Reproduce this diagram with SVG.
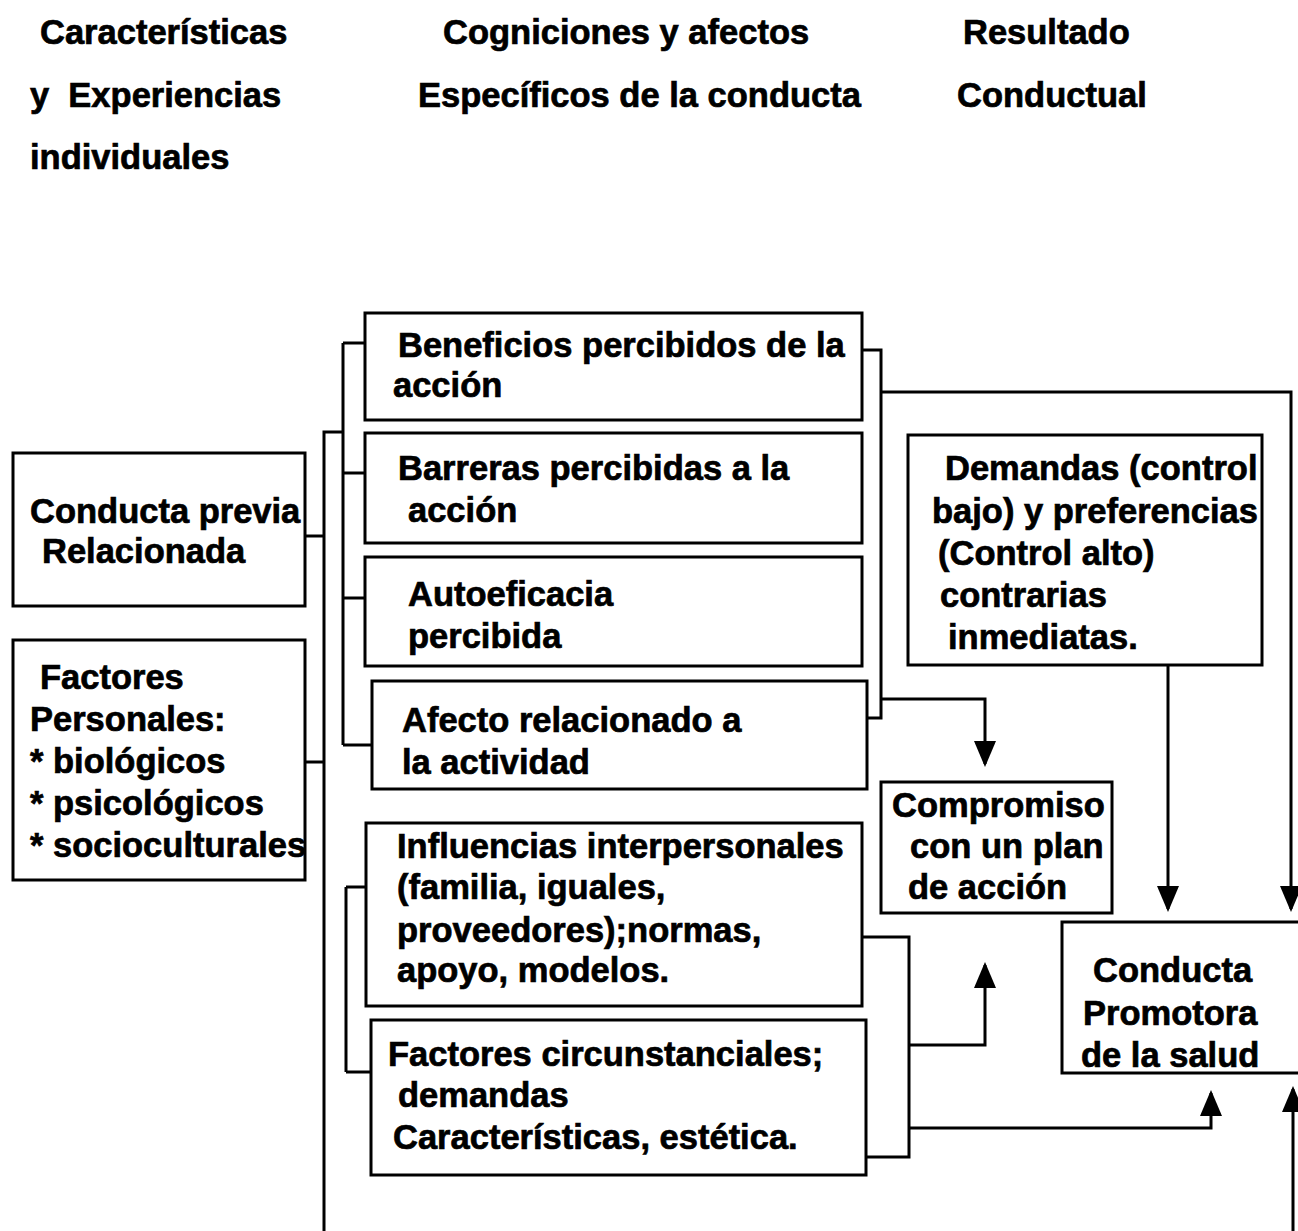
<svg xmlns="http://www.w3.org/2000/svg" width="1298" height="1231" viewBox="0 0 1298 1231">
<style>
  .bg{fill:#ffffff}
  .box{fill:#ffffff;stroke:#000000;stroke-width:3}
  .t{font-family:"Liberation Sans",Arial,sans-serif;font-weight:bold;font-size:34.5px;fill:#000000;stroke:#000000;stroke-width:0.7px}
  .c{fill:none;stroke:#000000;stroke-width:3}
  .a{fill:none;stroke:#000000;stroke-width:3;marker-end:url(#arr)}
</style>
<defs>
  <marker id="arr" viewBox="0 0 26 22" refX="23" refY="11" markerWidth="26" markerHeight="22" markerUnits="userSpaceOnUse" orient="auto">
    <path d="M0,0 L26,11 L0,22 z" fill="#000000"/>
  </marker>
</defs>
<rect class="bg" x="0" y="0" width="1298" height="1231"/>

<g id="headers">
  <text class="t" x="40" y="44">Características</text>
  <text class="t" x="30" y="107" xml:space="preserve">y  Experiencias</text>
  <text class="t" x="30" y="169">individuales</text>
  <text class="t" x="443" y="44">Cogniciones y afectos</text>
  <text class="t" x="418" y="107">Específicos de la conducta</text>
  <text class="t" x="963" y="44">Resultado</text>
  <text class="t" x="957" y="107">Conductual</text>
</g>

<g id="connectors">
  <path class="c" d="M305,536 H324"/>
  <path class="c" d="M305,762 H324"/>
  <path class="c" d="M324,1231 V432 H343"/>
  <path class="c" d="M343,343 V745"/>
  <path class="c" d="M343,343 H365"/>
  <path class="c" d="M343,473 H365"/>
  <path class="c" d="M343,598 H365"/>
  <path class="c" d="M343,745 H372"/>
  <path class="c" d="M862,350 H881 V718 H867"/>
  <path class="c" d="M346,887 V1072"/>
  <path class="c" d="M346,887 H366"/>
  <path class="c" d="M346,1072 H371"/>
  <path class="c" d="M862,937 H909 V1157 H866"/>
  <path class="a" d="M881,699 H985 V764"/>
  <path class="a" d="M1168,665 V909"/>
  <path class="a" d="M881,392 H1291 V909"/>
  <path class="a" d="M909,1045 H985 V965"/>
  <path class="a" d="M909,1128 H1211 V1093"/>
  <path class="a" d="M1293,1231 V1089"/>
</g>

<g id="conducta-previa">
  <rect class="box" x="13" y="453" width="292" height="153"/>
  <text class="t" x="30" y="523">Conducta previa</text>
  <text class="t" x="42" y="563">Relacionada</text>
</g>

<g id="factores-personales">
  <rect class="box" x="13" y="640" width="292" height="240"/>
  <text class="t" x="40" y="689">Factores</text>
  <text class="t" x="30" y="731">Personales:</text>
  <text class="t" x="30" y="773">* biológicos</text>
  <text class="t" x="30" y="815">* psicológicos</text>
  <text class="t" x="30" y="857">* socioculturales</text>
</g>

<g id="beneficios">
  <rect class="box" x="365" y="313" width="497" height="107"/>
  <text class="t" x="398" y="357">Beneficios percibidos de la</text>
  <text class="t" x="393" y="397">acción</text>
</g>

<g id="barreras">
  <rect class="box" x="365" y="433" width="497" height="110"/>
  <text class="t" x="398" y="480">Barreras percibidas a la</text>
  <text class="t" x="408" y="522">acción</text>
</g>

<g id="autoeficacia">
  <rect class="box" x="365" y="557" width="497" height="109"/>
  <text class="t" x="408" y="606">Autoeficacia</text>
  <text class="t" x="408" y="648">percibida</text>
</g>

<g id="afecto">
  <rect class="box" x="372" y="681" width="495" height="108"/>
  <text class="t" x="402" y="732">Afecto relacionado a</text>
  <text class="t" x="402" y="774">la actividad</text>
</g>

<g id="influencias">
  <rect class="box" x="366" y="823" width="496" height="183"/>
  <text class="t" x="397" y="858">Influencias interpersonales</text>
  <text class="t" x="397" y="899">(familia, iguales,</text>
  <text class="t" x="397" y="942">proveedores);normas,</text>
  <text class="t" x="397" y="982">apoyo, modelos.</text>
</g>

<g id="factores-circunstanciales">
  <rect class="box" x="371" y="1020" width="495" height="155"/>
  <text class="t" x="388" y="1066">Factores circunstanciales;</text>
  <text class="t" x="398" y="1107">demandas</text>
  <text class="t" x="393" y="1149">Características, estética.</text>
</g>

<g id="demandas">
  <rect class="box" x="908" y="435" width="354" height="230"/>
  <text class="t" x="945" y="480">Demandas (control</text>
  <text class="t" x="932" y="523">bajo) y preferencias</text>
  <text class="t" x="938" y="565">(Control alto)</text>
  <text class="t" x="940" y="607">contrarias</text>
  <text class="t" x="948" y="649">inmediatas.</text>
</g>

<g id="compromiso">
  <rect class="box" x="881" y="782" width="231" height="131"/>
  <text class="t" x="892" y="817">Compromiso</text>
  <text class="t" x="910" y="858">con un plan</text>
  <text class="t" x="908" y="899">de acción</text>
</g>

<g id="conducta-promotora">
  <rect class="box" x="1062" y="922" width="260" height="151"/>
  <text class="t" x="1093" y="982">Conducta</text>
  <text class="t" x="1083" y="1025">Promotora</text>
  <text class="t" x="1081" y="1067">de la salud</text>
</g>
</svg>
